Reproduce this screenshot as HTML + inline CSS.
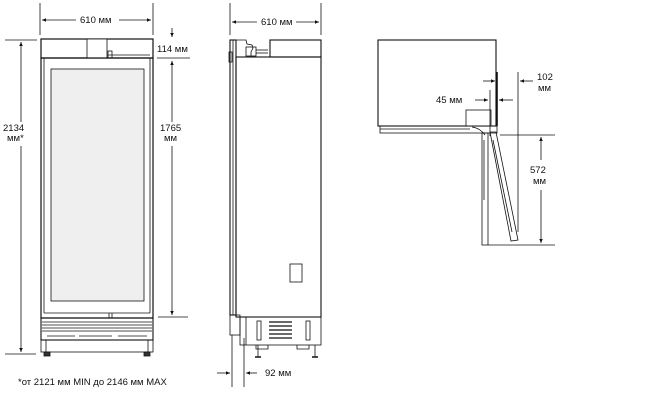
<!DOCTYPE html>
<html><head><meta charset="utf-8"><style>
html,body{margin:0;padding:0;background:#fff;}
svg{display:block;}
text{font-family:"Liberation Sans",sans-serif;font-size:9.5px;fill:#111;}
</style></head><body>
<svg width="650" height="400" viewBox="0 0 650 400" xmlns="http://www.w3.org/2000/svg">
<defs>
<marker id="a" markerWidth="6" markerHeight="6" refX="5" refY="3" orient="auto"><path d="M0,0.8 L5,3 L0,5.2z" fill="#111"/></marker>
</defs>
<g stroke="#111" stroke-width="0.8" fill="none">
<!-- FRONT VIEW -->
<line x1="40" y1="3" x2="40" y2="35"/><line x1="153" y1="3" x2="153" y2="35"/>
<line x1="76" y1="20" x2="42" y2="20" marker-end="url(#a)"/><line x1="119" y1="20" x2="151" y2="20" marker-end="url(#a)"/>
<line x1="5" y1="40" x2="37" y2="40"/><line x1="5" y1="354" x2="36" y2="354"/>
<line x1="21" y1="122" x2="21" y2="42" marker-end="url(#a)"/><line x1="21" y1="146" x2="21" y2="352" marker-end="url(#a)"/>
<line x1="157" y1="58" x2="190" y2="58"/><line x1="158" y1="317" x2="188" y2="317"/>
<line x1="172" y1="28" x2="172" y2="37" marker-end="url(#a)"/>
<line x1="172" y1="122" x2="172" y2="61" marker-end="url(#a)"/><line x1="172" y1="146" x2="172" y2="315" marker-end="url(#a)"/>
<rect x="41" y="39" width="112" height="19" stroke-width="1.2"/>
<rect x="87" y="39" width="20" height="19" fill="#fff"/>
<rect x="108" y="51" width="4" height="7"/>
<line x1="108" y1="55" x2="150" y2="55"/>
<rect x="41" y="58" width="112" height="260" stroke-width="1.2"/>
<line x1="44" y1="58" x2="44" y2="313"/><line x1="150" y1="58" x2="150" y2="313"/>
<rect x="51" y="69" width="93" height="232" fill="#efefef"/>
<line x1="44" y1="313" x2="150" y2="313"/>
<line x1="109" y1="313" x2="109" y2="318"/><line x1="112" y1="313" x2="112" y2="318"/>
<rect x="41" y="318" width="112" height="22" stroke-width="1.1"/>
<line x1="42" y1="322" x2="152" y2="322"/><line x1="42" y1="325" x2="152" y2="325"/><line x1="42" y1="328" x2="152" y2="328"/><line x1="42" y1="331" x2="152" y2="331"/>
<line x1="47" y1="336" x2="75" y2="336"/><line x1="79" y1="336" x2="112" y2="336"/><line x1="118" y1="336" x2="147" y2="336"/>
<rect x="41" y="340" width="112" height="12"/>
<line x1="46" y1="340" x2="46" y2="352"/><line x1="148" y1="340" x2="148" y2="352"/>
<rect x="44" y="352" width="6" height="4" fill="#333"/><rect x="144" y="352" width="6" height="4" fill="#333"/>
<!-- SIDE VIEW -->
<line x1="230" y1="3" x2="230" y2="35"/><line x1="321" y1="3" x2="321" y2="35"/>
<line x1="257" y1="22" x2="232" y2="22" marker-end="url(#a)"/><line x1="296" y1="22" x2="319" y2="22" marker-end="url(#a)"/>
<rect x="230" y="40" width="6" height="275" stroke-width="1.1"/>
<rect x="229" y="52" width="3" height="10"/>
<line x1="233" y1="40" x2="233" y2="315"/>
<path d="M236,40 L246,40 L247,44 L252,45 L253,48 L251,52 L251,57"/>
<rect x="246" y="47" width="10" height="9"/>
<line x1="256" y1="50" x2="268" y2="50"/><line x1="256" y1="53" x2="268" y2="53"/>
<rect x="270" y="40" width="51" height="17" stroke-width="1.1"/>
<rect x="236" y="57" width="85" height="260" stroke-width="1.1"/>
<rect x="290" y="264" width="12" height="18"/>
<rect x="230" y="315" width="10" height="20"/>
<rect x="240" y="317" width="81" height="28"/>
<line x1="246" y1="345" x2="246" y2="317"/>
<rect x="257" y="321" width="4" height="19"/><rect x="306" y="321" width="4" height="19"/>
<g stroke-width="1.2"><line x1="269" y1="322" x2="292" y2="322"/><line x1="269" y1="326" x2="292" y2="326"/><line x1="269" y1="330" x2="292" y2="330"/><line x1="269" y1="334" x2="292" y2="334"/><line x1="269" y1="338" x2="292" y2="338"/></g>
<path d="M256,345 v4 h12 v-4 M297,345 v4 h12 v-4"/>
<line x1="258" y1="345" x2="258" y2="357"/><line x1="315" y1="345" x2="315" y2="357"/>
<line x1="255" y1="357" x2="261" y2="357" stroke-width="1.5"/><line x1="312" y1="357" x2="318" y2="357" stroke-width="1.5"/>
<line x1="232" y1="335" x2="232" y2="387"/><line x1="244" y1="338" x2="244" y2="387"/>
<line x1="217" y1="373" x2="230" y2="373" marker-end="url(#a)"/><line x1="257" y1="373" x2="246" y2="373" marker-end="url(#a)"/>
<!-- TOP VIEW -->
<rect x="378" y="40" width="118" height="86" stroke-width="1.1"/>
<line x1="497" y1="72" x2="497" y2="126" stroke-width="1.6"/>
<rect x="466" y="110" width="25" height="16" fill="#fff"/>
<rect x="380" y="126" width="117" height="7"/>
<line x1="380" y1="129" x2="470" y2="129"/>
<line x1="490" y1="90" x2="490" y2="136"/>
<path d="M472,127 Q480,128 485,135"/>
<rect x="482" y="133" width="6" height="112"/>
<line x1="484" y1="140" x2="484" y2="200"/>
<path d="M490,132 L496,132 L518,240 L511,241 Z"/>
<line x1="493" y1="140" x2="512" y2="232"/>
<line x1="518" y1="72" x2="518" y2="232"/>
<line x1="500" y1="135" x2="555" y2="135"/><line x1="488" y1="245" x2="555" y2="245"/>
<line x1="541" y1="160" x2="541" y2="137" marker-end="url(#a)"/><line x1="541" y1="190" x2="541" y2="243" marker-end="url(#a)"/>
<line x1="483" y1="81" x2="495" y2="81" marker-end="url(#a)"/>
<line x1="533" y1="81" x2="520" y2="81" marker-end="url(#a)"/>
<line x1="475" y1="100" x2="488" y2="100" marker-end="url(#a)"/>
<line x1="513" y1="100" x2="499" y2="100" marker-end="url(#a)"/>
</g>
<text x="80" y="23">610 мм</text>
<text x="261" y="25">610 мм</text>
<text x="3" y="131">2134</text><text x="7" y="141">мм*</text>
<text x="157" y="52">114 мм</text>
<text x="160" y="131">1765</text><text x="164" y="141">мм</text>
<text x="265" y="376">92 мм</text>
<text x="436" y="103">45 мм</text>
<text x="537" y="80">102</text><text x="538" y="91">мм</text>
<text x="530" y="173">572</text><text x="533" y="184">мм</text>
<text x="18" y="385">*от 2121 мм MIN до 2146 мм MAX</text>
</svg>
</body></html>
